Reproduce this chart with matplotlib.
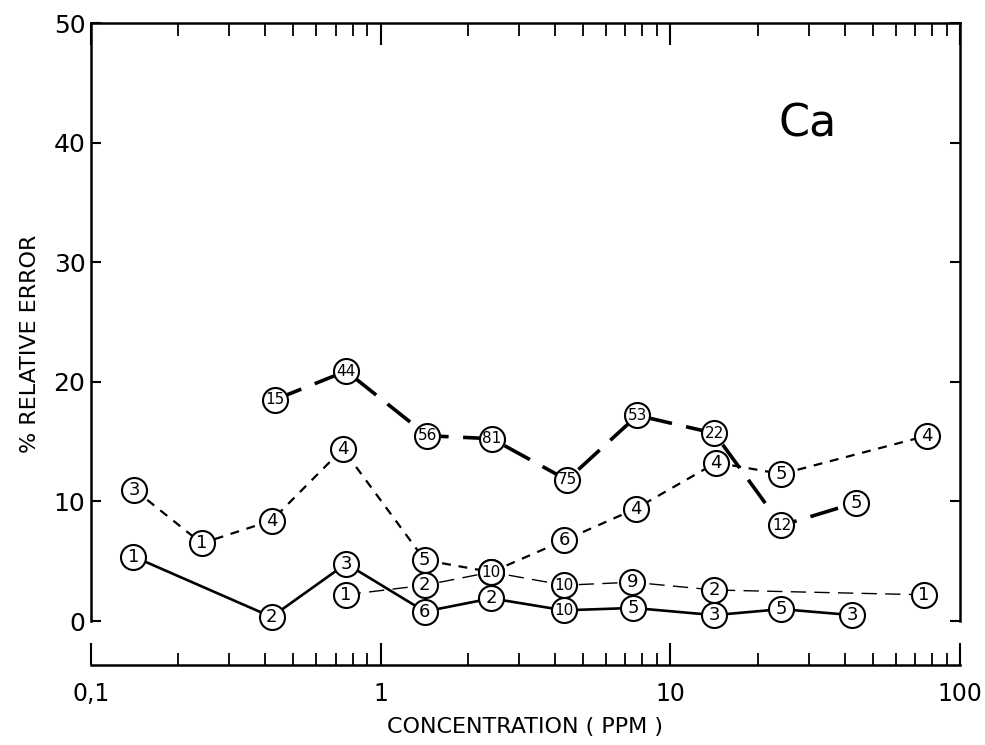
import matplotlib.pyplot as plt
from matplotlib.ticker import LogLocator, NullFormatter, FixedLocator, FixedFormatter

# solid line series
conc_a = [0.14, 0.42, 0.76, 1.42, 2.41, 4.3, 7.45, 14.2, 24.2, 42.5]
err_a = [5.4, 0.35, 4.8, 0.8, 1.9, 0.9, 1.1, 0.5, 1.0, 0.5]
n_a = ['1', '2', '3', '6', '2', '10', '5', '3', '5', '3']

# heavy long-dash series
conc_b = [0.43, 0.76, 1.45, 2.42, 4.4, 7.7, 14.2, 24.2, 43.8]
err_b = [18.5, 20.9, 15.5, 15.25, 11.8, 17.2, 15.7, 8.0, 9.9]
n_b = ['15', '44', '56', '81', '75', '53', '22', '12', '5']

# medium short-dash series
conc_c = [0.141, 0.241, 0.42, 0.74, 1.42, 2.41, 4.3, 7.6, 14.4, 24.2, 76.9]
err_c = [11.0, 6.5, 8.4, 14.4, 5.1, 4.1, 6.75, 9.4, 13.25, 12.3, 15.5]
n_c = ['3', '1', '4', '4', '5', '10', '6', '4', '4', '5', '4']

# thin long-dash series
conc_d = [0.757, 1.42, 2.41, 4.3, 7.4, 14.2, 75.2]
err_d = [2.2, 3.0, 4.1, 3.0, 3.25, 2.6, 2.2]
n_d = ['1', '2', '10', '10', '9', '2', '1']

plt.rcParams['font.family'] = ['DejaVu Sans']

fig = plt.figure(figsize=(9.85, 7.45), dpi=100)
ax = fig.add_axes([0.0924, 0.1074, 0.8822, 0.8616])
ax.set_xscale('log')
ax.set_xlim(0.1, 100)
ax.set_ylim(-3.67, 50)

styles = [
    (conc_a, err_a, n_a, dict(ls='-', lw=1.9)),
    (conc_b, err_b, n_b, dict(ls=(0, (8, 4)), lw=2.6)),
    (conc_c, err_c, n_c, dict(ls=(0, (4, 3.5)), lw=1.6)),
    (conc_d, err_d, n_d, dict(ls=(0, (11, 6)), lw=1.0)),
]
for xs, ys, labs, st in styles:
    ax.plot(xs, ys, color='black', zorder=2, **st)
done = set()
for xs, ys, labs, st in styles:
    ax.plot(xs, ys, ls='none', marker='o', ms=18, mfc='white', mec='black',
            mew=1.5, zorder=3)
    for x, y, s in zip(xs, ys, labs):
        if (x, y) in done:
            continue
        done.add((x, y))
        ax.text(x, y, s, ha='center', va='center', fontsize=13 if len(s) == 1 else 11,
                zorder=4)

ax.text(29.7, 41.6, 'Ca', fontsize=32, ha='center', va='center')

for side in ['left', 'right', 'top', 'bottom']:
    ax.spines[side].set_linewidth(1.8)
ax.spines['left'].set_bounds(0, 50)
ax.spines['right'].set_bounds(0, 50)

ax.yaxis.set_major_locator(FixedLocator([0, 10, 20, 30, 40, 50]))
ax.yaxis.set_major_formatter(FixedFormatter(['0', '10', '20', '30', '40', '50']))
ax.tick_params(axis='y', which='major', direction='in', left=True, right=True,
               length=7, width=1.5, labelsize=18, pad=4)

ax.xaxis.set_major_locator(FixedLocator([0.1, 1, 10, 100]))
ax.xaxis.set_major_formatter(FixedFormatter(['0,1', '1', '10', '100']))
ax.xaxis.set_minor_locator(LogLocator(base=10, subs=range(2, 10)))
ax.xaxis.set_minor_formatter(NullFormatter())
ax.tick_params(axis='x', which='major', direction='in', top=True, bottom=True,
               length=16, width=1.5, labelsize=17, pad=12)
ax.tick_params(axis='x', which='minor', direction='in', top=True, bottom=True,
               length=9, width=1.3)

ax.set_xlabel('CONCENTRATION ( PPM )', fontsize=16, labelpad=8)
ax.set_ylabel('% RELATIVE ERROR', fontsize=16, labelpad=10)

plt.savefig('out.png', dpi=100)
